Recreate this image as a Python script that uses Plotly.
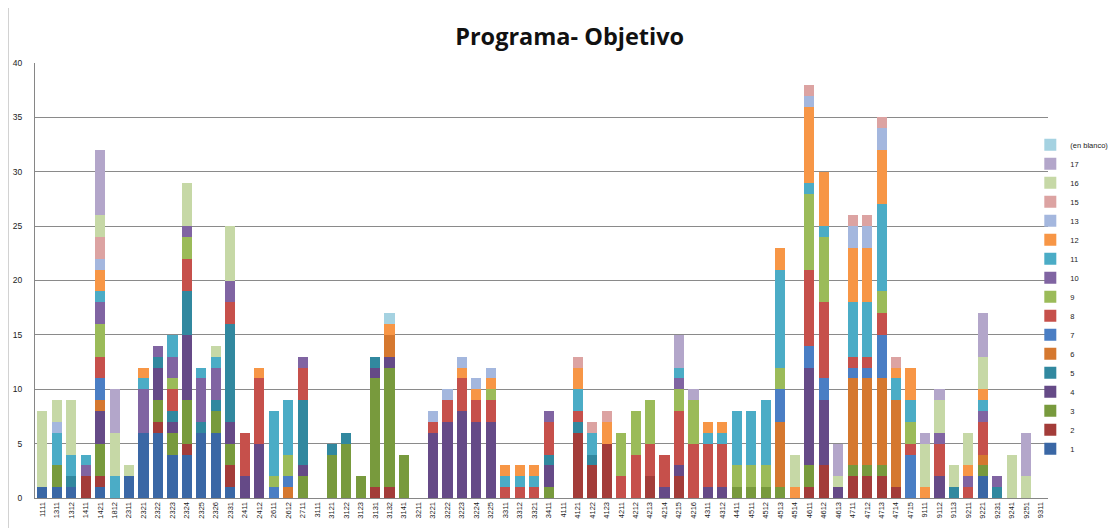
import plotly.graph_objects as go

categories = ["1111","1311","1312","1411","1421","1812","2311","2321","2322","2323",
              "2324","2325","2326","2331","2411","2412","2611","2612","2711","3111",
              "3121","3122","3123","3131","3132","3141","3211","3221","3222","3223",
              "3224","3225","3311","3312","3321","3411","4111","4121","4122","4123",
              "4211","4212","4213","4214","4215","4216","4311","4312","4411","4511",
              "4512","4513","4514","4611","4612","4613","4711","4712","4713","4714",
              "4715","9111","9112","9113","9211","9221","9231","9241","9251","9311"]

s1 = [1,1,1,0,1,0,2,6,6,4, 4,6,6,1,0,0,0,0,0,0, 0,0,0,0,0,0,0,0,0,0, 0,0,0,0,0,0,0,0,0,0,
      0,0,0,0,0,0,0,0,0,0, 0,0,0,0,0,0,0,0,0,0, 0,0,0,0,0,2,0,0,0,0]
s2 = [0,0,0,2,1,0,0,0,1,0, 1,0,0,2,0,0,0,0,0,0, 0,0,0,1,1,0,0,0,0,0, 0,0,0,0,0,0,0,6,3,5,
      0,0,2,0,2,0,0,0,0,0, 0,0,0,1,3,0,2,2,2,1, 0,0,0,0,0,0,0,0,0,0]
s3 = [0,2,0,0,3,0,0,0,2,2, 4,0,2,2,0,0,0,0,2,0, 4,5,2,10,11,4,0,0,0,0, 0,0,0,0,0,1,0,0,0,0,
      0,0,0,0,0,0,0,0,1,1, 1,1,0,2,0,0,1,1,1,0, 0,0,0,0,0,1,0,0,0,0]
s4 = [0,0,0,0,3,0,0,0,3,1, 6,0,0,2,2,5,0,0,1,0, 0,0,0,1,1,0,0,6,7,8, 7,7,0,0,0,2,0,0,0,0,
      0,0,0,1,1,0,1,1,0,0, 0,0,0,9,6,1,0,0,0,0, 0,0,2,0,0,0,0,0,0,0]
s5 = [0,0,1,0,0,0,0,0,1,1, 4,1,1,9,0,0,0,0,6,0, 1,1,0,1,0,0,0,0,0,0, 0,0,0,0,0,1,0,1,1,0,
      0,0,0,0,0,0,0,0,0,0, 0,0,0,0,0,0,0,0,0,0, 0,0,0,1,0,0,1,0,0,0]
s6 = [0,0,0,0,1,0,0,0,0,0, 0,0,0,0,0,0,0,1,0,0, 0,0,0,0,2,0,0,0,0,0, 0,0,0,0,0,0,0,0,0,0,
      0,0,0,0,0,0,0,0,0,0, 0,6,0,0,0,0,8,8,8,8, 0,0,0,0,0,1,0,0,0,0]
s7 = [0,0,0,0,2,0,0,0,0,0, 0,0,0,0,0,0,1,1,0,0, 0,0,0,0,0,0,0,0,0,0, 0,0,0,0,0,0,0,0,0,0,
      0,0,0,0,0,0,0,0,0,0, 0,3,0,2,2,0,1,1,4,0, 4,0,0,0,0,0,0,0,0,0]
s8 = [0,0,0,0,2,0,0,0,0,2, 3,0,0,2,4,6,0,0,3,0, 0,0,0,0,0,0,0,1,2,3, 2,2,1,1,1,3,0,1,0,0,
      2,4,3,3,5,5,4,4,0,0, 0,0,0,7,7,0,1,1,2,0, 1,0,3,0,1,3,0,0,0,0]
s9 = [0,0,0,0,3,0,0,0,0,1, 2,0,0,0,0,0,1,2,0,0, 0,0,0,0,0,0,0,0,0,0, 0,1,0,0,0,0,0,0,0,0,
      4,4,4,0,2,4,0,0,2,2, 2,2,0,7,6,0,0,0,2,0, 2,0,0,0,0,0,0,0,0,0]
s10 = [0,0,0,1,2,0,0,4,1,2, 1,4,3,2,0,0,0,0,1,0, 0,0,0,0,0,0,0,0,0,0, 0,0,0,0,0,1,0,0,0,0,
       0,0,0,0,1,0,0,0,0,0, 0,0,0,0,0,0,0,0,0,0, 0,0,1,0,1,1,1,0,0,0]
s11 = [0,3,2,1,1,2,0,1,0,2, 0,1,1,0,0,0,6,5,0,0, 0,0,0,0,0,0,0,0,0,0, 0,0,1,1,1,0,0,2,2,0,
       0,0,0,0,1,0,1,1,5,5, 6,9,0,1,1,0,5,5,8,2, 2,0,0,0,0,1,0,0,0,0]
s12 = [0,0,0,0,2,0,0,1,0,0, 0,0,0,0,0,1,0,0,0,0, 0,0,0,0,1,0,0,0,0,1, 1,1,1,1,1,0,0,2,0,2,
       0,0,0,0,0,0,1,1,0,0, 0,2,1,7,5,0,5,5,5,1, 3,1,0,0,1,1,0,0,0,0]
s13 = [0,1,0,0,1,0,0,0,0,0, 0,0,0,0,0,0,0,0,0,0, 0,0,0,0,0,0,0,1,1,1, 1,1,0,0,0,0,0,0,0,0,
       0,0,0,0,0,0,0,0,0,0, 0,0,0,1,0,0,2,2,2,0, 0,0,0,0,0,0,0,0,0,0]
s15 = [0,0,0,0,2,0,0,0,0,0, 0,0,0,0,0,0,0,0,0,0, 0,0,0,0,0,0,0,0,0,0, 0,0,0,0,0,0,0,1,1,1,
       0,0,0,0,0,0,0,0,0,0, 0,0,0,1,0,0,1,1,1,1, 0,0,0,0,0,0,0,0,0,0]
s16 = [7,2,5,0,2,4,1,0,0,0, 4,0,1,5,0,0,0,0,0,0, 0,0,0,0,0,0,0,0,0,0, 0,0,0,0,0,0,0,0,0,0,
       0,0,0,0,0,0,0,0,0,0, 0,0,3,0,0,1,0,0,0,0, 0,4,3,2,3,3,0,4,2,0]
s17 = [0,0,0,0,6,4,0,0,0,0, 0,0,0,0,0,0,0,0,0,0, 0,0,0,0,0,0,0,0,0,0, 0,0,0,0,0,0,0,0,0,0,
       0,0,0,0,3,1,0,0,0,0, 0,0,0,0,0,3,0,0,0,0, 0,1,1,0,0,4,0,0,4,0]
s_blank = [0,0,0,0,0,0,0,0,0,0, 0,0,0,0,0,0,0,0,0,0, 0,0,0,0,1,0,0,0,0,0, 0,0,0,0,0,0,0,0,0,0,
           0,0,0,0,0,0,0,0,0,0, 0,0,0,0,0,0,0,0,0,0, 0,0,0,0,0,0,0,0,0,0]

series_names = ["1","2","3","4","5","6","7","8","9","10","11","12","13","15","16","17","(en blanco)"]
series_values = [s1,s2,s3,s4,s5,s6,s7,s8,s9,s10,s11,s12,s13,s15,s16,s17,s_blank]
series_colors = ["#3A67A5","#A33C39","#789A3D","#654A87","#31889F","#D5782F","#4A7EC4",
                 "#C6504B","#9BBB59","#8064A2","#4BACC6","#F79646","#A4B7DE","#DCA3A2",
                 "#C6D8A6","#B3A6CA","#A5D2E1"]

fig = go.Figure()
for name, vals, col in zip(series_names, series_values, series_colors):
    fig.add_trace(go.Bar(x=categories, y=vals, name=name, marker_color=col,
                         marker_line_width=0))

# chart-area frame line at the far left
fig.add_shape(type="line", xref="paper", yref="paper", x0=-0.0267, x1=-0.0267,
              y0=-0.07, y1=1.15, line=dict(color="#9a9a9a", width=1))

# The page body adds an 8px margin, so the figure is sized to the remaining area.
fig.update_layout(
    width=1110, height=520,
    barmode="stack", bargap=0.3,
    plot_bgcolor="white", paper_bgcolor="white",
    margin=dict(l=27, r=70, t=55, b=30, autoexpand=False),
    font=dict(family="Liberation Sans, Arial, sans-serif", color="#222222"),
    title=dict(text="<b>Programa- Objetivo</b>", x=0.506, xref="container", xanchor="center",
               y=0.944, yref="container", yanchor="middle",
               font=dict(size=23.5, family="Open Sans, Liberation Sans, sans-serif", color="#111111")),
    legend=dict(traceorder="reversed", xref="container", yref="container",
                x=0.921, xanchor="left", y=0.765, yanchor="top",
                font=dict(size=7.5), tracegroupgap=0, itemwidth=30,
                maxheight=420, bgcolor="rgba(0,0,0,0)"),
    xaxis=dict(type="category", tickangle=-90, tickfont=dict(size=7.5),
               showline=True, linecolor="#868686", linewidth=1, ticks="",
               showgrid=False, automargin=False),
    yaxis=dict(range=[0, 40], dtick=5, tickfont=dict(size=8.5),
               showgrid=True, gridcolor="#8a8a8a", gridwidth=1,
               showline=True, linecolor="#868686", linewidth=1,
               zeroline=False, ticks="", automargin=False, ticklabelstandoff=10),
)

fig.write_html("out.html")
